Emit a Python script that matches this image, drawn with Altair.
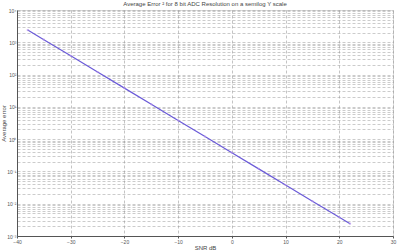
import altair as alt
import pandas as pd

# Data
snr_db = [-38, -35, -30, -25, -20, -15, -10, -5, 0, 5, 10, 15, 20, 22]
avg_error = [2400, 1200, 380, 120, 38, 12, 3.8, 1.2, 0.38, 0.12, 0.038, 0.012, 0.0038, 0.0024]

x_ticks = [-40, -30, -20, -10, 0, 10, 20, 30]
y_decades = [1e-3, 1e-2, 1e-1, 1e0, 1e1, 1e2, 1e3, 1e4]
y_labels = ["10⁻³", "10⁻²", "10⁻¹", "10⁰", "10¹", "10²", "10³", "10⁴"]
minor_mult = [1, 2, 3, 4, 5, 6, 7, 8, 9]

df = pd.DataFrame({"snr": snr_db, "err": avg_error})

y_values = sorted({d * m for d in y_decades[:-1] for m in minor_mult} | set(y_decades))

# label expression: only decades get a label
expr = "''"
for d, lab in zip(y_decades, y_labels):
    expr = f"abs(datum.value - {d}) < {d} * 1e-6 ? '{lab}' : ({expr})"

font = "Liberation Sans"

xenc = alt.X(
    "snr:Q",
    scale=alt.Scale(domain=[-40, 30], nice=False),
    axis=alt.Axis(
        title="SNR dB", values=x_ticks, grid=True, gridDash=[3, 2], gridColor="#888",
        gridWidth=0.5, labelFontSize=5, titleFontSize=6, labelColor="#555",
        titleColor="#444", titleFontWeight="normal", tickSize=2, tickColor="#555",
        domainColor="#555", labelPadding=1, titlePadding=0, labelFont=font,
        titleFont=font, labelFlush=False,
    ),
)
yenc = alt.Y(
    "err:Q",
    scale=alt.Scale(type="log", domain=[1e-3, 1e4], nice=False),
    axis=alt.Axis(
        title="Average error", values=y_values, labelExpr=expr, grid=True,
        gridDash=[3, 2], gridColor="#999", gridWidth=0.5, labelFontSize=5,
        titleFontSize=6, labelColor="#555", titleColor="#444",
        titleFontWeight="normal", ticks=False, domainColor="#555", labelPadding=1,
        titlePadding=0, labelFont=font, titleFont=font, labelFlush=False,
        labelOverlap=False,
    ),
)

line = alt.Chart(df).mark_line(color="#6a5ad8", strokeWidth=1.2).encode(x=xenc, y=yenc)
pts = alt.Chart(df).mark_point(color="#b090e8", size=5, filled=True).encode(x="snr:Q", y="err:Q")

chart = (
    alt.layer(line, pts)
    .properties(
        width=376,
        height=226,
        title=alt.TitleParams(
            "Average Error ² for 8 bit ADC Resolution on a semilog Y scale",
            fontSize=6, font=font, fontWeight="normal", color="#444", offset=1,
        ),
        autosize=alt.AutoSizeParams(type="none"),
        padding={"left": 17, "top": 10, "right": 7, "bottom": 14},
    )
    .configure_view(stroke="#555", strokeWidth=1)
    .configure(background="white")
)

chart.save("out.html", embed_options={"renderer": "svg", "actions": False})
